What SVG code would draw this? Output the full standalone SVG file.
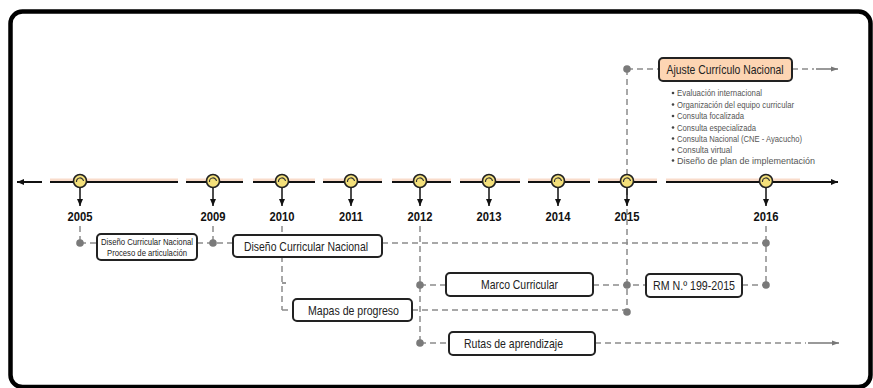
<svg xmlns="http://www.w3.org/2000/svg" width="873" height="388" viewBox="0 0 873 388">
<defs>
<marker id="ah" markerWidth="8" markerHeight="8" refX="7" refY="4" orient="auto" markerUnits="userSpaceOnUse">
<path d="M0,1 L7,4 L0,7 Z" fill="#111"/>
</marker>
<marker id="ahg" markerWidth="8" markerHeight="8" refX="7" refY="4" orient="auto" markerUnits="userSpaceOnUse">
<path d="M0,1.5 L7,4 L0,6.5 Z" fill="#777"/>
</marker>
<style>
.frame{fill:none;stroke:#000;stroke-width:4.5}
.peach{stroke:#f9dccb;stroke-width:3;fill:none}
.tl{stroke:#111;stroke-width:2;fill:none}
.dash{stroke:#8c8c8c;stroke-width:1.5;fill:none;stroke-dasharray:6 4}
.solid{stroke:#777;stroke-width:1.5;fill:none}
.dot{fill:#7a7a7a}
.box{fill:#fff;stroke:#222;stroke-width:2}
.hl{fill:#fdd5b3;stroke:#222;stroke-width:2}
.lbl{font-family:"Liberation Sans",Arial,sans-serif;font-size:13px;fill:#222;text-anchor:middle}
.sm{font-family:"Liberation Sans",Arial,sans-serif;font-size:9.5px;fill:#222;text-anchor:middle}
.yr{font-family:"Liberation Sans",Arial,sans-serif;font-size:13px;font-weight:bold;fill:#111;text-anchor:middle}
.bl{font-family:"Liberation Sans",Arial,sans-serif;font-size:8.5px;fill:#555}
.yc{fill:#f4e07a;stroke:#222;stroke-width:1.6}
.sw{fill:none;stroke:#333;stroke-width:1.2}
.dn{stroke:#111;stroke-width:1.5;fill:none}
</style>
</defs>

<rect class="frame" x="10.5" y="11.5" width="860" height="375.5" rx="12"/>

<g id="connectors">
<line class="dash" x1="80" y1="226" x2="80" y2="243"/>
<line class="dash" x1="213" y1="226" x2="213" y2="243"/>
<line class="dash" x1="282" y1="226" x2="282" y2="310"/>
<line class="dash" x1="420" y1="226" x2="420" y2="343"/>
<line class="dash" x1="627" y1="69" x2="627" y2="312"/>
<line class="dash" x1="766" y1="226" x2="766" y2="285"/>
<line class="solid" x1="282" y1="283" x2="286" y2="283"/>
<line class="dash" x1="80" y1="243" x2="97" y2="243"/>
<line class="dash" x1="197" y1="243" x2="233" y2="243"/>
<line class="dash" x1="382" y1="243" x2="766" y2="243"/>
<line class="dash" x1="420" y1="285" x2="446" y2="285"/>
<line class="dash" x1="593" y1="285" x2="646" y2="285"/>
<line class="dash" x1="742" y1="285" x2="766" y2="285"/>
<line class="dash" x1="282" y1="310" x2="293" y2="310"/>
<line class="dash" x1="412" y1="310" x2="627" y2="310"/>
<line class="dash" x1="420" y1="343" x2="449" y2="343"/>
<line class="dash" x1="595" y1="343" x2="806" y2="343"/>
<line class="solid" x1="808" y1="343" x2="839" y2="343" marker-end="url(#ahg)"/>
<line class="dash" x1="627" y1="69" x2="659" y2="69"/>
<line class="dash" x1="792" y1="69" x2="814" y2="69"/>
<line class="solid" x1="816" y1="69" x2="838" y2="69" marker-end="url(#ahg)"/>
<circle class="dot" cx="80" cy="243" r="3.8"/>
<circle class="dot" cx="213" cy="243" r="3.8"/>
<circle class="dot" cx="766" cy="243" r="3.8"/>
<circle class="dot" cx="420" cy="285" r="3.8"/>
<circle class="dot" cx="627" cy="285" r="3.8"/>
<circle class="dot" cx="766" cy="285" r="3.8"/>
<circle class="dot" cx="627" cy="312" r="3.8"/>
<circle class="dot" cx="420" cy="343" r="3.8"/>
<circle class="dot" cx="627" cy="69" r="3.8"/>
</g>

<g id="timeline">
<path class="peach" d="M50,180 H178 M186,180 H243 M253,180 H315 M323,180 H382 M392,180 H451 M460,180 H520 M528,180 H590 M598,180 H657 M666,180 H800"/>
<path class="tl" d="M50,182 H178 M186,182 H243 M253,182 H315 M323,182 H382 M392,182 H451 M460,182 H520 M528,182 H590 M598,182 H657"/>
<line class="tl" x1="666" y1="182" x2="838" y2="182" marker-end="url(#ah)"/>
<line class="tl" x1="42" y1="182" x2="17" y2="182" marker-end="url(#ah)"/>
</g>

<g id="y2005"><circle class="yc" cx="80" cy="181" r="6.5"/><path class="sw" d="M76.5,182 A3.5,3.5 0 1 1 83.5,181"/><line class="dn" x1="80" y1="188" x2="80" y2="206" marker-end="url(#ah)"/><text class="yr" x="80" y="221" textLength="25" lengthAdjust="spacingAndGlyphs">2005</text></g>
<g id="y2009"><circle class="yc" cx="213" cy="181" r="6.5"/><path class="sw" d="M209.5,182 A3.5,3.5 0 1 1 216.5,181"/><line class="dn" x1="213" y1="188" x2="213" y2="206" marker-end="url(#ah)"/><text class="yr" x="213" y="221" textLength="25" lengthAdjust="spacingAndGlyphs">2009</text></g>
<g id="y2010"><circle class="yc" cx="282" cy="181" r="6.5"/><path class="sw" d="M278.5,182 A3.5,3.5 0 1 1 285.5,181"/><line class="dn" x1="282" y1="188" x2="282" y2="206" marker-end="url(#ah)"/><text class="yr" x="282" y="221" textLength="25" lengthAdjust="spacingAndGlyphs">2010</text></g>
<g id="y2011"><circle class="yc" cx="351" cy="181" r="6.5"/><path class="sw" d="M347.5,182 A3.5,3.5 0 1 1 354.5,181"/><line class="dn" x1="351" y1="188" x2="351" y2="206" marker-end="url(#ah)"/><text class="yr" x="351" y="221" textLength="24" lengthAdjust="spacingAndGlyphs">2011</text></g>
<g id="y2012"><circle class="yc" cx="420" cy="181" r="6.5"/><path class="sw" d="M416.5,182 A3.5,3.5 0 1 1 423.5,181"/><line class="dn" x1="420" y1="188" x2="420" y2="206" marker-end="url(#ah)"/><text class="yr" x="420" y="221" textLength="25" lengthAdjust="spacingAndGlyphs">2012</text></g>
<g id="y2013"><circle class="yc" cx="489" cy="181" r="6.5"/><path class="sw" d="M485.5,182 A3.5,3.5 0 1 1 492.5,181"/><line class="dn" x1="489" y1="188" x2="489" y2="206" marker-end="url(#ah)"/><text class="yr" x="489" y="221" textLength="25" lengthAdjust="spacingAndGlyphs">2013</text></g>
<g id="y2014"><circle class="yc" cx="558" cy="181" r="6.5"/><path class="sw" d="M554.5,182 A3.5,3.5 0 1 1 561.5,181"/><line class="dn" x1="558" y1="188" x2="558" y2="206" marker-end="url(#ah)"/><text class="yr" x="558" y="221" textLength="25" lengthAdjust="spacingAndGlyphs">2014</text></g>
<g id="y2015"><circle class="yc" cx="627" cy="181" r="6.5"/><path class="sw" d="M623.5,182 A3.5,3.5 0 1 1 630.5,181"/><line class="dn" x1="627" y1="188" x2="627" y2="206" marker-end="url(#ah)"/><text class="yr" x="627" y="221" textLength="25" lengthAdjust="spacingAndGlyphs">2015</text></g>
<g id="y2016"><circle class="yc" cx="766" cy="181" r="6.5"/><path class="sw" d="M762.5,182 A3.5,3.5 0 1 1 769.5,181"/><line class="dn" x1="766" y1="188" x2="766" y2="206" marker-end="url(#ah)"/><text class="yr" x="766" y="221" textLength="25" lengthAdjust="spacingAndGlyphs">2016</text></g>

<g id="dcn-proceso">
<rect class="box" x="97" y="234" width="100" height="26" rx="4"/>
<text class="sm" x="147" y="245" textLength="92" lengthAdjust="spacingAndGlyphs">Diseño Curricular Nacional</text>
<text class="sm" x="147" y="256" textLength="80" lengthAdjust="spacingAndGlyphs">Proceso de articulación</text>
</g>
<g id="dcn">
<rect class="box" x="233" y="235" width="149" height="22" rx="4"/>
<text class="lbl" x="306" y="250.5" textLength="124" lengthAdjust="spacingAndGlyphs">Diseño Curricular Nacional</text>
</g>
<g id="marco">
<rect class="box" x="446" y="273" width="147" height="23" rx="4"/>
<text class="lbl" x="519.5" y="289" textLength="77" lengthAdjust="spacingAndGlyphs">Marco Curricular</text>
</g>
<g id="rm">
<rect class="box" x="646" y="274" width="96" height="23" rx="4"/>
<text class="lbl" x="694" y="290" textLength="82" lengthAdjust="spacingAndGlyphs">RM N.º 199-2015</text>
</g>
<g id="mapas">
<rect class="box" x="293" y="299" width="119" height="22" rx="4"/>
<text class="lbl" x="353.5" y="314.5" textLength="91" lengthAdjust="spacingAndGlyphs">Mapas de progreso</text>
</g>
<g id="rutas">
<rect class="box" x="449" y="332" width="146" height="23" rx="4"/>
<text class="lbl" x="513.5" y="348" textLength="99" lengthAdjust="spacingAndGlyphs">Rutas de aprendizaje</text>
</g>
<g id="ajuste">
<rect class="hl" x="659" y="58" width="133" height="23" rx="4"/>
<text class="lbl" x="725" y="74" textLength="117" lengthAdjust="spacingAndGlyphs">Ajuste Currículo Nacional</text>
</g>
<g id="ajuste-list">
<circle cx="673" cy="93" r="1.3" fill="#444"/><text class="bl" x="677" y="96" textLength="85" lengthAdjust="spacingAndGlyphs">Evaluación internacional</text>
<circle cx="673" cy="104.5" r="1.3" fill="#444"/><text class="bl" x="677" y="107.5" textLength="117" lengthAdjust="spacingAndGlyphs">Organización del equipo curricular</text>
<circle cx="673" cy="116" r="1.3" fill="#444"/><text class="bl" x="677" y="119" textLength="67" lengthAdjust="spacingAndGlyphs">Consulta focalizada</text>
<circle cx="673" cy="127.5" r="1.3" fill="#444"/><text class="bl" x="677" y="130.5" textLength="79" lengthAdjust="spacingAndGlyphs">Consulta especializada</text>
<circle cx="673" cy="138.5" r="1.3" fill="#444"/><text class="bl" x="677" y="141.5" textLength="125" lengthAdjust="spacingAndGlyphs">Consulta Nacional (CNE - Ayacucho)</text>
<circle cx="673" cy="149.5" r="1.3" fill="#444"/><text class="bl" x="677" y="152.5" textLength="55" lengthAdjust="spacingAndGlyphs">Consulta virtual</text>
<circle cx="673" cy="160.5" r="1.3" fill="#444"/><text class="bl" x="677" y="163.5" textLength="138" lengthAdjust="spacingAndGlyphs">Diseño de plan de implementación</text>
</g>
</svg>
